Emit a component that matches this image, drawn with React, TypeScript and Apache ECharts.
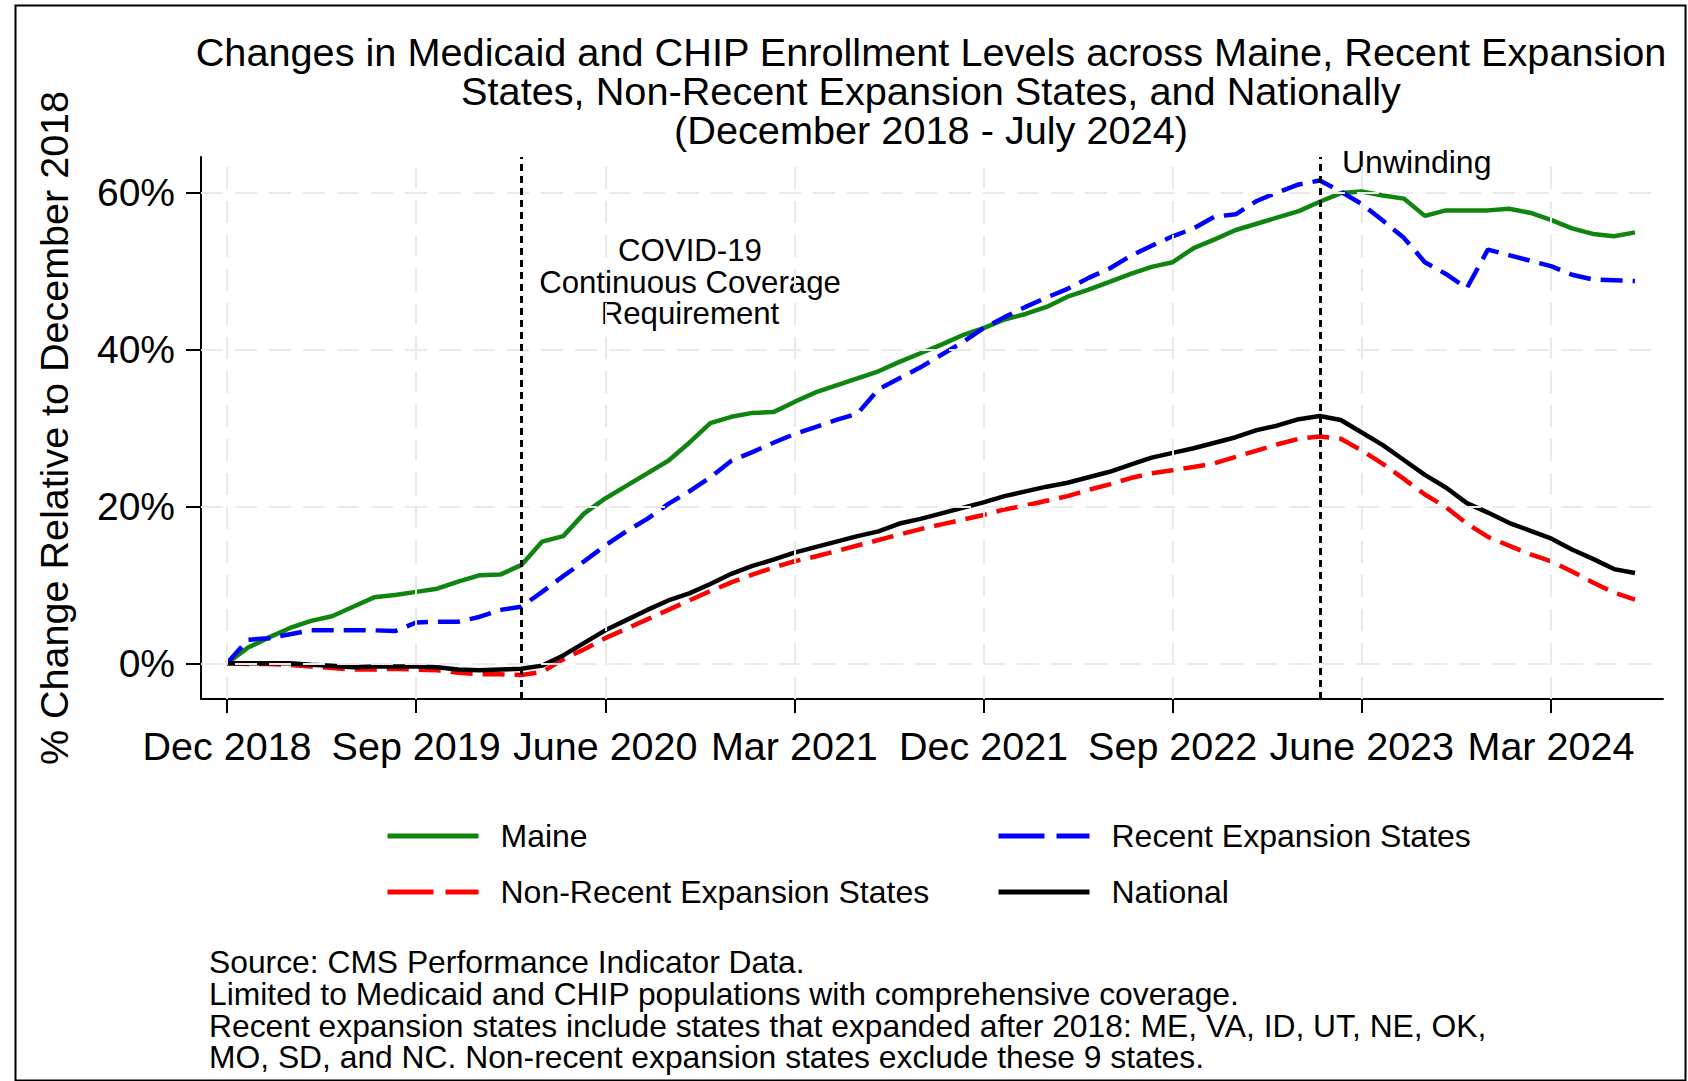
import React, { useEffect, useRef } from 'react';
import * as echarts from 'echarts';

// Months since December 2018 (index 0 = Dec 2018, index 67 = Jul 2024)
const maine = [
  0, 2.0, 3.3, 4.5, 5.4, 6.0, 7.2, 8.4, 8.7, 9.1, 9.5, 10.4, 11.2, 11.3, 12.5, 15.5, 16.2, 19.1, 21.0, 22.6,
  24.2, 25.8, 28.1, 30.6, 31.4, 31.9, 32.0, 33.3, 34.5, 35.4, 36.3, 37.2, 38.4, 39.5, 40.6, 41.8, 42.7, 43.8, 44.5, 45.4,
  46.7, 47.6, 48.6, 49.6, 50.5, 51.1, 52.9, 54.0, 55.2, 56.0, 56.8, 57.6, 58.8, 59.9, 60.1, 59.6, 59.2, 57.0, 57.7, 57.7,
  57.7, 57.9, 57.4, 56.5, 55.4, 54.7, 54.4, 54.9,
];
const recentExpansion = [
  0, 3.0, 3.2, 3.7, 4.2, 4.2, 4.2, 4.2, 4.1, 5.2, 5.3, 5.3, 5.9, 6.8, 7.2, 9.1, 11.1, 13.0, 15.0, 16.8,
  18.4, 20.3, 21.9, 23.7, 25.8, 26.9, 28.1, 29.2, 30.1, 31.0, 31.8, 34.9, 36.3, 37.7, 39.3, 40.9, 42.7, 44.1, 45.4, 46.6,
  47.7, 49.1, 50.3, 51.9, 53.2, 54.4, 55.4, 56.9, 57.2, 58.9, 60.0, 61.0, 61.5, 60.1, 58.5, 56.4, 54.2, 51.1, 49.6, 47.8,
  52.7, 52.0, 51.3, 50.6, 49.5, 48.9, 48.8, 48.7,
];
const nonRecentExpansion = [
  0, -0.1, -0.1, -0.2, -0.4, -0.6, -0.8, -0.8, -0.7, -0.8, -0.9, -1.2, -1.4, -1.4, -1.5, -1.1, 0.5, 1.8, 3.2, 4.4,
  5.6, 6.8, 8.0, 9.2, 10.3, 11.3, 12.2, 13.0, 13.6, 14.3, 15.0, 15.7, 16.4, 17.1, 17.7, 18.3, 18.9, 19.6, 20.1, 20.7,
  21.3, 22.1, 22.8, 23.6, 24.2, 24.6, 25.0, 25.5, 26.3, 27.1, 27.9, 28.6, 28.9, 28.6, 27.1, 25.4, 23.5, 21.5, 19.9, 17.8,
  16.1, 15.0, 13.9, 13.0, 11.7, 10.3, 9.0, 8.1,
];
const national = [
  0, 0.0, 0.0, 0.0, -0.2, -0.3, -0.5, -0.4, -0.4, -0.4, -0.5, -0.8, -0.9, -0.8, -0.7, -0.3, 1.0, 2.6, 4.2, 5.5,
  6.8, 8.0, 8.9, 10.1, 11.4, 12.4, 13.2, 14.1, 14.8, 15.5, 16.2, 16.8, 17.8, 18.4, 19.1, 19.8, 20.5, 21.3, 21.9, 22.5,
  23.0, 23.7, 24.4, 25.3, 26.2, 26.8, 27.4, 28.1, 28.8, 29.7, 30.3, 31.1, 31.5, 31.0, 29.4, 27.8, 25.9, 24.0, 22.4, 20.4,
  19.2, 17.9, 16.9, 15.9, 14.5, 13.3, 12.0, 11.5,
];

const xTickMonths = [0, 9, 18, 27, 36, 45, 54, 63];
const xTickLabels = ['Dec 2018', 'Sep 2019', 'June 2020', 'Mar 2021', 'Dec 2021', 'Sep 2022', 'June 2023', 'Mar 2024'];
const yTicks = [0, 20, 40, 60];
const referenceMonths = [14, 52]; // Feb 2020 (COVID-19 CCR), Apr 2023 (Unwinding)

const titleLines = [
  'Changes in Medicaid and CHIP Enrollment Levels across Maine, Recent Expansion',
  'States, Non-Recent Expansion States, and Nationally',
  '(December 2018 - July 2024)',
];
const footnoteLines = [
  'Source: CMS Performance Indicator Data.',
  'Limited to Medicaid and CHIP populations with comprehensive coverage.',
  'Recent expansion states include states that expanded after 2018: ME, VA, ID, UT, NE, OK,',
  'MO, SD, and NC. Non-recent expansion states exclude these 9 states.',
];

const FONT = '"Liberation Sans", Arial, Helvetica, sans-serif';

const toPairs = (arr: number[]) => arr.map((v, i) => [i, v]);

export default function App() {
  const ref = useRef<HTMLDivElement>(null);

  useEffect(() => {
    if (!ref.current) return;
    const chart = echarts.init(ref.current, null, { renderer: 'svg' });

    const lineSeries = (name: string, data: number[], color: string, dashed: boolean) => ({
      name,
      type: 'line',
      data: toPairs(data),
      symbol: 'none',
      showSymbol: false,
      z: 3,
      lineStyle: { color, width: 4.5, type: dashed ? [22, 10] : 'solid' },
      itemStyle: { color },
    });

    const legendBase = {
      orient: 'vertical',
      top: 820,
      itemWidth: 91,
      itemHeight: 32,
      itemGap: 24,
      padding: 0,
      selectedMode: false,
      itemStyle: { opacity: 0 },
      lineStyle: { width: 5 },
      textStyle: { fontSize: 32, lineHeight: 32, color: '#000', fontFamily: FONT, padding: [0, 0, 0, 17] },
    };

    const option: any = {
      animation: false,
      backgroundColor: '#fff',
      textStyle: { fontFamily: FONT },
      title: {
        text: titleLines.join('\n'),
        left: 931,
        textAlign: 'center',
        top: 32,
        padding: 0,
        textStyle: { fontSize: 39.7, lineHeight: 39, fontWeight: 'normal', color: '#000', fontFamily: FONT },
      },
      grid: { left: 201, right: 25, top: 157, bottom: 382 },
      xAxis: {
        type: 'value',
        min: -1.2375,
        max: 68.333,
        axisLine: { show: true, onZero: false, lineStyle: { color: '#000', width: 2 } },
        axisTick: { show: true, customValues: xTickMonths, length: 14, lineStyle: { color: '#000', width: 2 } },
        axisLabel: {
          customValues: xTickMonths,
          formatter: (v: number) => xTickLabels[xTickMonths.indexOf(Math.round(v))] ?? '',
          fontSize: 39.5,
          color: '#000',
          margin: 27,
          fontFamily: FONT,
        },
        splitLine: { show: false },
      },
      yAxis: {
        type: 'value',
        min: -4.55,
        max: 64.5,
        name: '% Change Relative to December 2018',
        nameLocation: 'middle',
        nameRotate: 90,
        nameGap: 127,
        nameTextStyle: { fontSize: 39.5, color: '#000', fontFamily: FONT },
        axisLine: { show: true, onZero: false, lineStyle: { color: '#000', width: 2 } },
        axisTick: { show: true, customValues: yTicks, length: 15, lineStyle: { color: '#000', width: 2 } },
        axisLabel: {
          customValues: yTicks,
          formatter: '{value}%',
          fontSize: 39,
          color: '#000',
          margin: 26,
          fontFamily: FONT,
        },
        splitLine: { show: false },
      },
      legend: [
        {
          ...legendBase,
          left: 385,
          data: [
            { name: 'Maine' },
            { name: 'Non-Recent Expansion States', lineStyle: { type: [46, 12] } },
          ],
        },
        {
          ...legendBase,
          left: 996,
          data: [
            { name: 'Recent Expansion States', lineStyle: { type: [46, 12] } },
            { name: 'National' },
          ],
        },
      ],
      series: [
        {
          name: '__grid',
          type: 'line',
          data: [],
          silent: true,
          z: 1,
          markLine: {
            silent: true,
            animation: false,
            symbol: ['none', 'none'],
            label: { show: false },
            lineStyle: { color: '#e9e9e9', width: 2, type: [22, 12] },
            data: [
              ...xTickMonths.map((m) => ({ xAxis: m })),
              ...yTicks.map((v) => ({ yAxis: v })),
            ],
          },
        },
        {
          name: '__ref',
          type: 'line',
          data: [],
          silent: true,
          z: 2,
          markLine: {
            silent: true,
            animation: false,
            symbol: ['none', 'none'],
            label: { show: false },
            lineStyle: { color: '#000', width: 3, type: [7, 5] },
            data: referenceMonths.map((m) => ({ xAxis: m })),
          },
        },
        lineSeries('Maine', maine, '#0f840f', false),
        lineSeries('Recent Expansion States', recentExpansion, '#0000ff', true),
        lineSeries('Non-Recent Expansion States', nonRecentExpansion, '#ff0000', true),
        lineSeries('National', national, '#000000', false),
      ],
      graphic: [
        {
          type: 'rect',
          left: 13,
          top: 3,
          shape: { x: 0, y: 0, width: 1670, height: 1075 },
          style: { fill: 'none', stroke: '#000', lineWidth: 2 },
          silent: true,
        },
        {
          type: 'text',
          x: 690,
          y: 282,
          style: {
            text: 'COVID-19\nContinuous Coverage\nRequirement',
            fontSize: 31.2,
            lineHeight: 31.5,
            fill: '#000',
            fontFamily: FONT,
            align: 'center',
            verticalAlign: 'middle',
          },
        },
        {
          type: 'text',
          x: 1342,
          y: 162,
          style: {
            text: 'Unwinding',
            fontSize: 32,
            fill: '#000',
            fontFamily: FONT,
            align: 'left',
            verticalAlign: 'middle',
          },
        },
        {
          type: 'text',
          x: 209,
          y: 946,
          style: {
            text: footnoteLines.join('\n'),
            fontSize: 31.8,
            lineHeight: 31.8,
            fill: '#000',
            fontFamily: FONT,
            align: 'left',
            verticalAlign: 'top',
          },
        },
      ],
    };

    chart.setOption(option);
    return () => chart.dispose();
  }, []);

  return (
    <div
      ref={ref}
      style={{ position: 'fixed', left: 0, top: 0, width: 1688, height: 1081, background: '#fff' }}
    />
  );
}
